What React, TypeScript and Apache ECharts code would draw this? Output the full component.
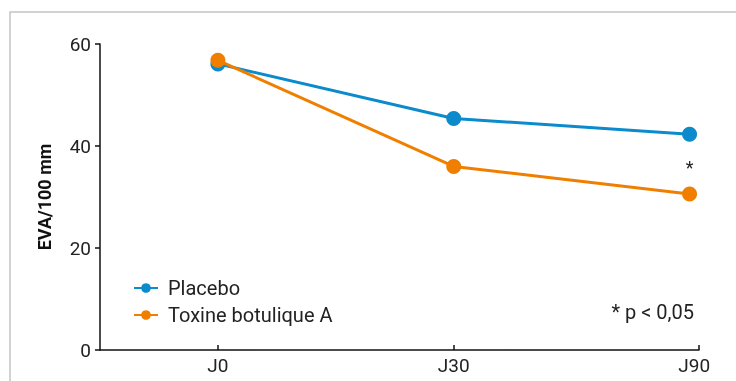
import React, { useEffect, useRef } from "react";
import * as echarts from "echarts";

const categories = ["J0", "J30", "J90"];
const placebo = [56.1, 45.4, 42.3];
const toxine = [56.8, 36.0, 30.6];
const significance = ["", "", "*"];
const yTicks = [0, 20, 40, 60];

const BLUE = "#0b8bcc";
const ORANGE = "#f07f00";
const FONT = "Roboto";

export default function App() {
  const ref = useRef<HTMLDivElement>(null);
  useEffect(() => {
    const chart = echarts.init(ref.current!, null, { renderer: "svg" });
    const xs = categories.map((_, i) => i);
    chart.setOption({
      animation: false,
      textStyle: { fontFamily: FONT },
      grid: { left: 100, right: 37, top: 44, bottom: 31, containLabel: false },
      legend: {
        orient: "vertical",
        left: 128,
        top: 273,
        itemWidth: 24,
        itemHeight: 12,
        itemGap: 7,
        textStyle: { fontFamily: FONT, fontSize: 20, color: "#222", padding: [0, 0, 0, 5] },
        data: ["Placebo", "Toxine botulique A"],
      },
      xAxis: {
        type: "value",
        min: -0.5,
        max: 2.04,
        splitLine: { show: false },
        axisLine: { onZero: false, lineStyle: { color: "#111", width: 1.5 } },
        axisTick: {
          inside: true,
          length: 5,
          lineStyle: { color: "#111", width: 1.5 },
          customValues: [0, 1, 2.04],
        },
        axisLabel: {
          customValues: [0, 1, 2.02],
          fontFamily: FONT,
          fontSize: 19,
          color: "#222",
          margin: 6,
          formatter: (v: number) => categories[Math.round(v)] ?? "",
        },
      },
      yAxis: {
        type: "value",
        min: 0,
        max: 60,
        interval: 20,
        name: "EVA/100 mm",
        nameLocation: "middle",
        nameGap: 47,
        nameTextStyle: { fontFamily: FONT, fontSize: 18, fontWeight: "bold", color: "#111" },
        splitLine: { show: false },
        axisLine: { show: true, onZero: false, lineStyle: { color: "#111", width: 1.5 } },
        axisTick: { show: true, length: 5, lineStyle: { color: "#111", width: 1.5 } },
        axisLabel: {
          fontFamily: FONT,
          fontSize: 19,
          color: "#222",
          margin: 9,
          customValues: yTicks,
        },
      },
      series: [
        {
          name: "Placebo",
          type: "line",
          data: xs.map((x, i) => [x, placebo[i]]),
          symbol: "circle",
          symbolSize: 15,
          lineStyle: { color: BLUE, width: 3 },
          itemStyle: { color: BLUE },
          z: 2,
        },
        {
          name: "Toxine botulique A",
          type: "line",
          data: xs.map((x, i) => ({
            value: [x, toxine[i]],
            label: {
              show: significance[i] !== "",
              formatter: significance[i],
              position: "top",
              distance: 10,
              fontFamily: FONT,
              fontSize: 18,
              color: "#222",
            },
          })),
          symbol: "circle",
          symbolSize: 15,
          lineStyle: { color: ORANGE, width: 3 },
          itemStyle: { color: ORANGE },
          z: 3,
        },
      ],
      graphic: [
        {
          type: "rect",
          shape: { x: 10, y: 12, width: 800, height: 500 },
          style: { fill: "none", stroke: "#c4c4c4", lineWidth: 1.5 },
          silent: true,
        },
        {
          type: "text",
          right: 42,
          top: 302,
          style: { text: "* p < 0,05", fontFamily: FONT, fontSize: 20, fill: "#222" },
        },
      ],
    });
    return () => chart.dispose();
  }, []);
  return (
    <div
      ref={ref}
      style={{ position: "fixed", left: 0, top: 0, width: 736, height: 381 }}
    />
  );
}
